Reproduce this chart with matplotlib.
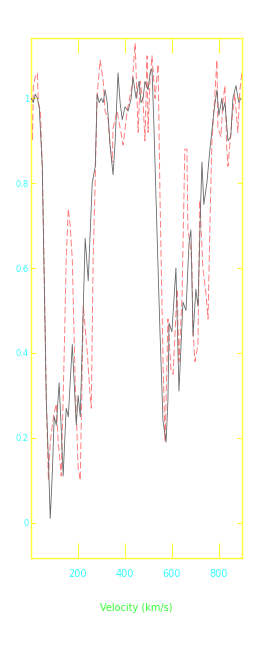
import numpy as np
import matplotlib
matplotlib.use("Agg")
import matplotlib.pyplot as plt

# two velocity profiles (km/s, normalised flux)
vel_solid = [1, 10, 18, 27, 35, 48, 57, 65, 74, 82, 91, 99, 108, 120, 129, 137,
             150, 159, 176, 193, 201, 210, 231, 244, 261, 274, 282, 291, 299,
             308, 316, 325, 337, 350, 359, 371, 380, 389, 401, 414, 427, 435,
             448, 461, 469, 478, 486, 499, 508, 516, 525, 537, 550, 563, 576,
             584, 589, 601, 618, 631, 648, 661, 674, 682, 691, 703, 712, 724,
             729, 737, 750, 763, 771, 780, 793, 801, 814, 818, 827, 840, 852,
             861, 874, 886, 895]
flux_solid = [1.0, 0.99, 1.01, 1.0, 0.98, 0.84, 0.55, 0.29, 0.15, 0.01, 0.12,
              0.25, 0.23, 0.33, 0.22, 0.11, 0.27, 0.25, 0.42, 0.23, 0.30, 0.25,
              0.67, 0.57, 0.80, 0.84, 1.01, 0.99, 1.0, 0.99, 1.02, 0.99, 0.89,
              0.82, 0.90, 1.06, 0.99, 0.95, 0.98, 0.97, 1.0, 1.05, 1.0, 1.04,
              0.99, 1.0, 1.04, 1.02, 1.06, 1.07, 0.92, 0.69, 0.45, 0.24, 0.19,
              0.29, 0.47, 0.45, 0.60, 0.31, 0.52, 0.50, 0.66, 0.69, 0.44, 0.55,
              0.51, 0.76, 0.85, 0.75, 0.80, 0.88, 0.92, 0.97, 1.02, 0.96, 1.0,
              0.97, 0.99, 0.90, 0.91, 1.0, 1.03, 0.99, 1.0]

vel_dash = [1, 6, 10, 18, 27, 31, 40, 48, 57, 65, 74, 82, 91, 99, 108, 116,
            129, 142, 150, 159, 167, 176, 188, 201, 210, 223, 240, 252, 257,
            265, 274, 282, 295, 308, 316, 329, 337, 346, 350, 367, 380, 393,
            410, 431, 444, 457, 465, 478, 486, 495, 499, 508, 516, 529, 542,
            550, 563, 572, 584, 597, 606, 623, 631, 644, 656, 665, 669, 678,
            686, 691, 699, 712, 720, 733, 746, 755, 763, 771, 784, 793, 797,
            810, 818, 827, 835, 840, 857, 869, 882, 891, 899]
flux_dash = [0.99, 0.90, 1.03, 1.05, 1.06, 0.99, 0.97, 0.84, 0.57, 0.30, 0.10,
             0.19, 0.23, 0.26, 0.28, 0.19, 0.11, 0.41, 0.62, 0.74, 0.70, 0.62,
             0.34, 0.13, 0.10, 0.51, 0.40, 0.30, 0.27, 0.62, 0.81, 1.01, 1.09,
             1.04, 0.97, 0.95, 0.89, 0.85, 0.93, 0.97, 0.93, 0.89, 0.97, 1.03,
             1.13, 0.92, 1.04, 0.99, 0.90, 1.10, 0.92, 1.05, 1.10, 1.0, 1.08,
             0.77, 0.38, 0.19, 0.48, 0.36, 0.35, 0.55, 0.38, 0.53, 0.88, 0.88,
             0.69, 0.66, 0.61, 0.45, 0.38, 0.42, 0.76, 0.60, 0.54, 0.48, 0.70,
             0.89, 1.01, 1.09, 0.93, 0.91, 0.99, 1.03, 0.88, 0.84, 0.95, 1.01,
             0.92, 1.02, 1.06]

x_ticks = [200, 400, 600, 800]
y_ticks = [0, 0.2, 0.4, 0.6, 0.8, 1]
y_labels = ["0", "0.2", "0.4", "0.6", "0.8", "1"]

YEL = "#ffff33"
CYAN = "#33ffff"
NARROW = ["Liberation Sans Narrow", "DejaVu Sans"]

fig = plt.figure(figsize=(2.73, 6.54), dpi=100)
ax = fig.add_axes([0.1136, 0.1468, 0.773, 0.795])

ax.plot(vel_solid, flux_solid, color="#666666", lw=0.6, zorder=3)
ax.plot(vel_dash, flux_dash, color="#ff6666", lw=0.7, alpha=0.85,
        dashes=(7, 3), zorder=2)

ax.set_xlim(0, 900)
ax.set_ylim(-0.083, 1.142)
ax.set_xticks(x_ticks, [str(v) for v in x_ticks])
ax.set_yticks(y_ticks, y_labels)

for s in ax.spines.values():
    s.set_color(YEL)
    s.set_linewidth(1.0)
ax.tick_params(axis="x", direction="in", length=11, width=0.8, color=YEL,
               top=True, bottom=True, labelcolor=CYAN, labelsize=7, pad=8)
ax.tick_params(axis="y", direction="in", length=3.6, width=0.8, color=YEL,
               left=True, right=True, labelcolor=CYAN, labelsize=6, pad=1.5)
for lab in ax.get_xticklabels() + ax.get_yticklabels():
    lab.set_family(NARROW)

ax.set_xlabel("Velocity (km/s)", color="#33ff33", fontsize=7, family=NARROW,
              labelpad=17)

fig.savefig("out.png", dpi=100, facecolor="white")
